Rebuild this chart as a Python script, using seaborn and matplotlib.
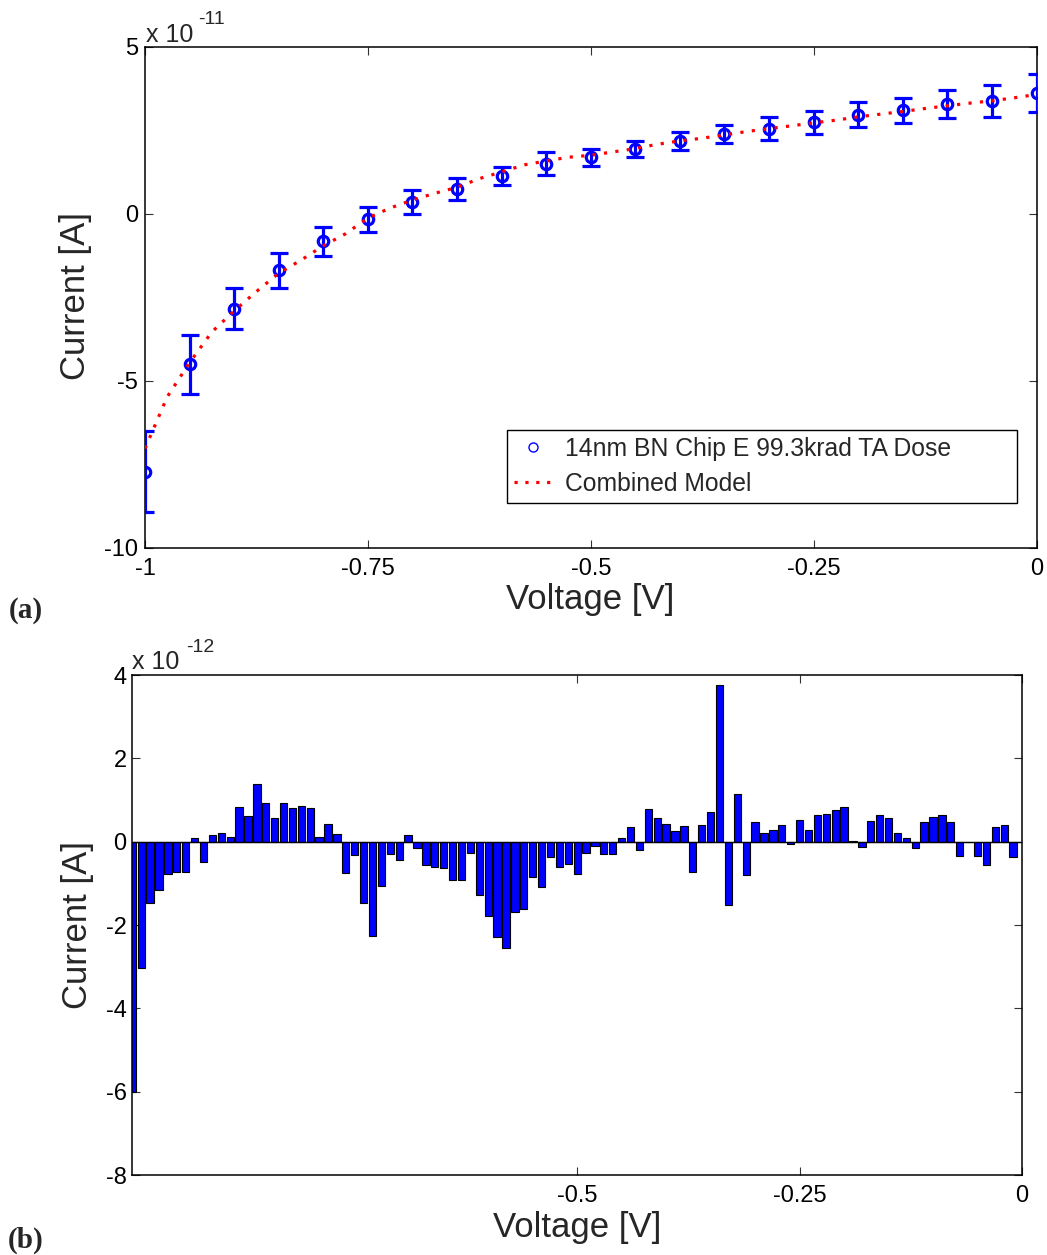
import numpy as np
import pandas as pd
import matplotlib
matplotlib.use("Agg")
import matplotlib.pyplot as plt
import seaborn as sns
from matplotlib.lines import Line2D

# ---------------- data ----------------
# (a) measured I-V points (current in units of 1e-11 A) with error half-widths
meas_v = [-1.00, -0.95, -0.90, -0.85, -0.80, -0.75, -0.70, -0.65, -0.60, -0.55, -0.50,
          -0.45, -0.40, -0.35, -0.30, -0.25, -0.20, -0.15, -0.10, -0.05, 0.00]
meas_i = [-7.72, -4.51, -2.84, -1.70, -0.83, -0.17, 0.35, 0.74, 1.13, 1.50, 1.69,
          1.95, 2.18, 2.39, 2.55, 2.74, 2.96, 3.09, 3.28, 3.38, 3.60]
meas_err = [1.20, 0.88, 0.61, 0.51, 0.43, 0.38, 0.37, 0.32, 0.28, 0.34, 0.26,
            0.24, 0.26, 0.27, 0.35, 0.34, 0.37, 0.36, 0.42, 0.48, 0.57]

# (a) combined model curve (units of 1e-11 A)
model_v = np.linspace(-1.0, 0.0, 41)
model_i = [-7.03, -5.48, -4.46, -3.54, -2.91, -2.33, -1.78, -1.39, -0.96, -0.60,
           -0.13, 0.17, 0.41, 0.61, 0.79, 1.05, 1.25, 1.46, 1.58, 1.69,
           1.75, 1.85, 1.95, 2.08, 2.18, 2.26, 2.36, 2.46, 2.55, 2.63,
           2.72, 2.80, 2.90, 2.98, 3.06, 3.15, 3.23, 3.31, 3.38, 3.47, 3.57]

# (b) residual current bars (units of 1e-12 A) at 0.01 V steps from -1.00 V
resid_v = np.round(np.arange(-1.00, -0.005, 0.01), 2)
resid_i = [-6.01, -3.04, -1.47, -1.16, -0.78, -0.73, -0.73, 0.09, -0.48, 0.16,
           0.22, 0.11, 0.84, 0.62, 1.39, 0.94, 0.57, 0.92, 0.82, 0.86,
           0.82, 0.11, 0.43, 0.19, -0.75, -0.33, -1.48, -2.26, -1.06, -0.29,
           -0.43, 0.17, -0.15, -0.56, -0.61, -0.63, -0.91, -0.91, -0.28, -1.29,
           -1.78, -2.28, -2.56, -1.68, -1.62, -0.84, -1.08, -0.37, -0.61, -0.53,
           -0.77, -0.27, -0.11, -0.29, -0.29, 0.09, 0.35, -0.21, 0.78, 0.57,
           0.43, 0.25, 0.37, -0.73, 0.39, 0.71, 3.76, -1.51, 1.14, -0.80,
           0.48, 0.20, 0.29, 0.41, -0.06, 0.51, 0.28, 0.65, 0.67, 0.77,
           0.84, 0.02, -0.13, 0.49, 0.65, 0.57, 0.20, 0.09, -0.16, 0.48,
           0.59, 0.65, 0.48, -0.34, 0.00, -0.34, -0.57, 0.35, 0.39, -0.37]

xticks_a = [-1, -0.75, -0.5, -0.25, 0]
xticklabels_a = ["-1", "-0.75", "-0.5", "-0.25", "0"]
yticks_a = [-10, -5, 0, 5]
yticklabels_a = ["-10", "-5", "0", "5"]
xticks_b = [-0.5, -0.25, 0]
xticklabels_b = ["-0.5", "-0.25", "0"]
yticks_b = [-8, -6, -4, -2, 0, 2, 4]
yticklabels_b = ["-8", "-6", "-4", "-2", "0", "2", "4"]

legend_labels = ["14nm BN Chip E 99.3krad TA Dose", "Combined Model"]

# ---------------- style ----------------
sns.set_theme(style="ticks")
plt.rcParams["font.family"] = ["Liberation Sans", "DejaVu Sans"]
plt.rcParams["axes.unicode_minus"] = False

W, H = 1047, 1255
fig = plt.figure(figsize=(W / 100, H / 100), dpi=100)
fig.patch.set_facecolor("white")


def px_axes(l, t, r, b):
    return fig.add_axes([l / W, 1 - b / H, (r - l) / W, (b - t) / H])


ax_a = px_axes(145, 46.7, 1036.5, 547.7)
ax_b = px_axes(132.3, 675, 1022, 1175)

tick_fs = 17
label_fs = 25

for ax in (ax_a, ax_b):
    ax.set_facecolor("white")
    for s in ax.spines.values():
        s.set_visible(True)
        s.set_linewidth(1.1)
        s.set_color("black")
    ax.tick_params(direction="in", length=6, width=0.8, color="#333333",
                   top=True, right=True, labelsize=tick_fs, labelcolor="black")

# ---------------- panel (a) ----------------
ax_a.errorbar(meas_v, meas_i, yerr=meas_err, fmt="o", mfc="none", mec="blue",
              mew=2.3, ms=7.5, ecolor="blue", elinewidth=2.3, capsize=6.5,
              capthick=2.3, zorder=3)
sns.lineplot(x=model_v, y=model_i, ax=ax_a, color="red", lw=2.3,
             linestyle=(0, (1, 2.6)), zorder=4)
ax_a.set_xlim(-1, 0)
ax_a.set_ylim(-10, 5)
ax_a.set_xticks(xticks_a)
ax_a.set_xticklabels(xticklabels_a)
ax_a.set_yticks(yticks_a)
ax_a.set_yticklabels(yticklabels_a)
ax_a.tick_params(axis="x", pad=7.5)
ax_a.tick_params(axis="y", pad=5)
ax_a.set_xlabel("Voltage [V]", fontsize=label_fs)
ax_a.set_ylabel("Current [A]", fontsize=label_fs)
ax_a.xaxis.label.set_verticalalignment("center")
ax_a.yaxis.label.set_verticalalignment("center")
ax_a.xaxis.set_label_coords((590 - 145) / 891.5, (547.7 - 600) / 501)
ax_a.yaxis.set_label_coords((76 - 145) / 891.5, (547.7 - 296) / 501)

h1 = Line2D([], [], marker="o", ls="none", mfc="none", mec="blue", ms=6.5, mew=1.0)
h2 = Line2D([], [], color="red", lw=2.3, ls=(0, (1, 2.4)))
leg_l, leg_r, leg_t, leg_b = 507, 1017, 430, 503
leg = ax_a.legend([h1, h2], legend_labels, loc="lower left", mode="expand",
                  bbox_to_anchor=((leg_l - 145) / 891.5, (547.7 - leg_b) / 501,
                                  (leg_r - leg_l) / 891.5, (leg_b - leg_t) / 501),
                  frameon=True, fancybox=False,
                  edgecolor="black", framealpha=1, fontsize=17.8,
                  handlelength=1.55, handletextpad=0.5, borderpad=0.29,
                  labelspacing=0.45, borderaxespad=0)
leg.get_frame().set_linewidth(1.0)

# ---------------- panel (b) ----------------
df_b = pd.DataFrame({"v": resid_v, "i": resid_i})
sns.barplot(data=df_b, x="v", y="i", native_scale=True, color="blue",
            saturation=1, edgecolor="black", linewidth=0.8, width=0.82,
            errorbar=None, ax=ax_b, zorder=2)
ax_b.axhline(0, color="black", lw=1.0, zorder=3)
ax_b.set_xlim(-1, 0)
ax_b.set_ylim(-8, 4)
ax_b.set_xticks(xticks_b)
ax_b.set_xticklabels(xticklabels_b)
ax_b.set_yticks(yticks_b)
ax_b.set_yticklabels(yticklabels_b)
ax_b.tick_params(axis="x", pad=7.5)
ax_b.tick_params(axis="y", pad=4)
ax_b.set_xlabel("Voltage [V]", fontsize=label_fs)
ax_b.set_ylabel("Current [A]", fontsize=label_fs)
ax_b.xaxis.label.set_verticalalignment("center")
ax_b.yaxis.label.set_verticalalignment("center")
ax_b.xaxis.set_label_coords((577 - 132.3) / 889.7, (1175 - 1228) / 500)
ax_b.yaxis.set_label_coords((77 - 132.3) / 889.7, (1175 - 925) / 500)

# ---------------- exponent annotations and panel labels ----------------
def ftext(x, y, s, **kw):
    fig.text(x / W, 1 - y / H, s, **kw)

ftext(146, 42, "x 10", fontsize=18, ha="left", va="baseline")
ftext(198, 20, "-11", fontsize=14, ha="left", va="center")
ftext(132, 669, "x 10", fontsize=18, ha="left", va="baseline")
ftext(186, 647, "-12", fontsize=14, ha="left", va="center")

serif = ["Liberation Serif", "DejaVu Serif"]
ftext(26, 611, "(a)", fontsize=21, fontweight="bold", family=serif, ha="center", va="center")
ftext(26, 1240, "(b)", fontsize=21, fontweight="bold", family=serif, ha="center", va="center")

fig.savefig("out.png", dpi=100, facecolor="white")
